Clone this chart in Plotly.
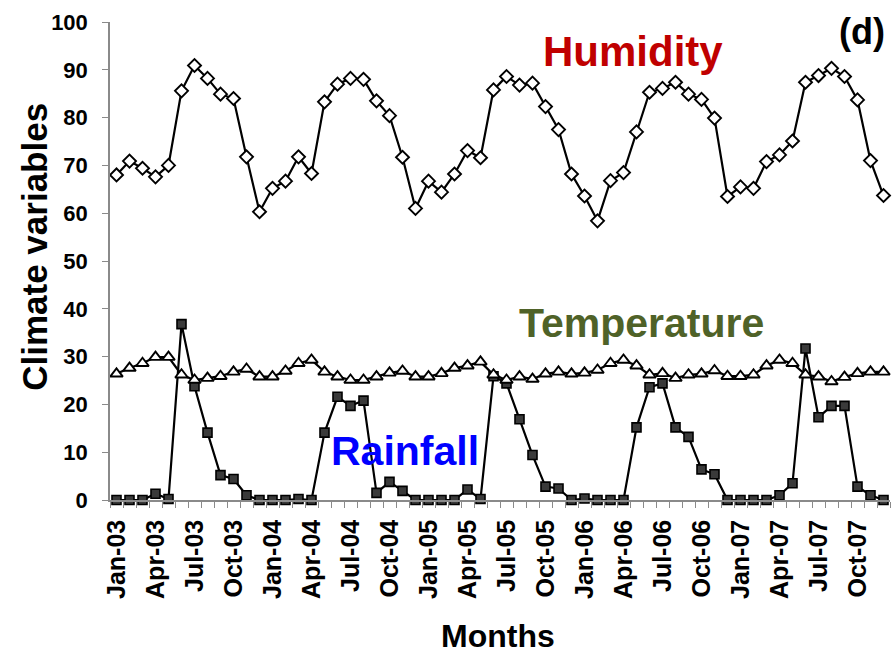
import plotly.graph_objects as go

# Monthly climate series, Jan-2003 .. Dec-2007
months = [f"{m}-{y:02d}" for y in range(3, 8)
          for m in ["Jan", "Feb", "Mar", "Apr", "May", "Jun",
                    "Jul", "Aug", "Sep", "Oct", "Nov", "Dec"]]

humidity = [68.0, 70.9, 69.4, 67.6, 70.0, 85.6, 90.9, 88.2, 84.9, 84.0, 71.8, 60.3,
            65.2, 66.7, 71.8, 68.3, 83.3, 87.0, 88.2, 88.0, 83.5, 80.4, 71.7, 61.0,
            66.7, 64.4, 68.2, 73.1, 71.6, 85.8, 88.6, 86.8, 87.2, 82.3, 77.5, 68.2,
            63.6, 58.4, 66.8, 68.5, 77.0, 85.3, 86.1, 87.4, 84.9, 83.8, 79.9, 63.5,
            65.5, 65.2, 70.8, 72.2, 75.1, 87.4, 88.8, 90.3, 88.6, 83.7, 71.0, 63.7]

temperature = [26.4, 27.6, 28.6, 29.9, 29.9, 26.2, 25.1, 25.5, 25.9, 26.8, 27.4, 25.8,
               25.8, 27.0, 28.6, 29.3, 26.8, 25.8, 25.1, 25.1, 25.8, 26.6, 27.0, 25.8,
               25.8, 26.5, 27.6, 28.1, 28.9, 26.2, 25.1, 25.8, 25.3, 26.4, 26.8, 26.4,
               26.6, 27.2, 28.6, 29.3, 28.1, 26.2, 26.5, 25.5, 26.2, 26.4, 27.1, 25.9,
               25.9, 26.2, 28.1, 29.3, 28.6, 26.2, 25.8, 24.8, 25.7, 26.5, 26.8, 26.8]

rainfall = [0.0, 0.0, 0.0, 1.3, 0.2, 36.8, 23.8, 14.1, 5.2, 4.4, 1.0, 0.0,
            0.0, 0.0, 0.2, 0.0, 14.1, 21.6, 19.7, 20.8, 1.5, 3.8, 1.9, 0.0,
            0.0, 0.0, 0.0, 2.2, 0.2, 25.9, 24.4, 16.9, 9.4, 2.8, 2.4, 0.0,
            0.3, 0.0, 0.0, 0.0, 15.2, 23.6, 24.4, 15.2, 13.2, 6.4, 5.4, 0.0,
            0.0, 0.0, 0.0, 1.0, 3.5, 31.7, 17.3, 19.7, 19.7, 2.8, 1.0, 0.0]

y_ticks = list(range(0, 101, 10))

x = list(range(len(months)))
label_idx = x[::3]
label_text = [months[i] for i in label_idx]

FONT = "Liberation Sans, Arial, sans-serif"
AXIS_GREY = "#8a8a8a"

fig = go.Figure()

fig.add_trace(go.Scatter(
    x=x, y=rainfall, mode="lines+markers", name="Rainfall",
    line=dict(color="black", width=2.2),
    marker=dict(symbol="square", size=9, color="#3a3a3a",
                line=dict(color="black", width=1.6)),
    cliponaxis=False,
))
fig.add_trace(go.Scatter(
    x=x, y=temperature, mode="lines+markers", name="Temperature",
    line=dict(color="black", width=2.2),
    marker=dict(symbol="triangle-up", size=11, color="white",
                line=dict(color="black", width=1.9)),
    cliponaxis=False,
))
fig.add_trace(go.Scatter(
    x=x, y=humidity, mode="lines+markers", name="Humidity",
    line=dict(color="black", width=2.2),
    marker=dict(symbol="diamond", size=10, color="white",
                line=dict(color="black", width=1.9)),
    cliponaxis=False,
))

# series names written next to their curves
labels = [
    ("Humidity", 39.7, 93.9, "#c00000", 42),
    ("Temperature", 40.4, 37.0, "#4f6228", 41),
    ("Rainfall", 22.2, 10.2, "#0000ff", 41),
]
for text, ax, ay, col, fs in labels:
    fig.add_annotation(x=ax, y=ay, xref="x", yref="y", text=f"<b>{text}</b>",
                       showarrow=False, xanchor="center", yanchor="middle",
                       font=dict(family=FONT, size=fs, color=col))

fig.add_annotation(x=57.35, y=98.0, xref="x", yref="y", text="<b>(d)</b>",
                   showarrow=False, xanchor="center", yanchor="middle",
                   font=dict(family=FONT, size=36, color="black"))

# axis titles
fig.add_annotation(x=-0.096, y=0.53, xref="paper", yref="paper",
                   text="<b>Climate variables</b>", textangle=-90,
                   showarrow=False, xanchor="center", yanchor="middle",
                   font=dict(family=FONT, size=35, color="black"))
fig.add_annotation(x=0.497, y=-0.284, xref="paper", yref="paper",
                   text="<b>Months</b>",
                   showarrow=False, xanchor="center", yanchor="middle",
                   font=dict(family=FONT, size=32, color="black"))

fig.update_layout(
    width=896, height=654,
    margin=dict(l=110, r=6, t=22, b=154),
    paper_bgcolor="white", plot_bgcolor="white",
    showlegend=False,
    font=dict(family=FONT, color="black"),
    xaxis=dict(
        range=[-0.5, len(months) - 0.5],
        tickmode="array", tickvals=label_idx, ticktext=label_text,
        tickangle=-90, ticks="", ticklabelstandoff=8,
        tickfont=dict(family=FONT, size=25, color="black", weight="bold"),
        showline=True, linecolor=AXIS_GREY, linewidth=1.5,
        showgrid=False, zeroline=False,
        minor=dict(tick0=-0.5, dtick=1, ticks="outside", ticklen=6,
                   tickcolor=AXIS_GREY, tickwidth=1, showgrid=False),
    ),
    yaxis=dict(
        range=[0, 100],
        tickmode="array", tickvals=y_ticks,
        ticks="outside", ticklen=6, tickcolor=AXIS_GREY, tickwidth=1,
        ticklabelstandoff=10,
        tickfont=dict(family=FONT, size=22, color="black", weight="bold"),
        showline=True, linecolor=AXIS_GREY, linewidth=1.5,
        showgrid=False, zeroline=False,
    ),
)

fig.write_html("out.html")
